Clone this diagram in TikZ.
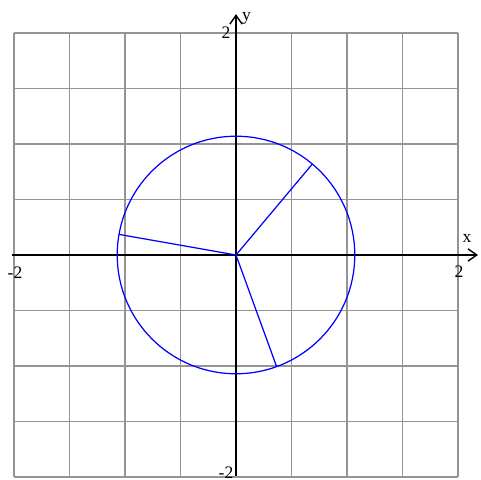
\documentclass[tikz,border=0pt]{standalone}
\usepackage{fontspec}
\setmainfont{Liberation Serif}
\usetikzlibrary{arrows.meta}
\begin{document}
\begin{tikzpicture}[x=2.22cm,y=2.22cm,
  gridline/.style={draw=black!42,line width=0.8pt},
  axisline/.style={draw=black,line width=0.8pt,-{Straight Barb[length=5pt,width=7pt]}},
  curve/.style={draw=blue,line width=0.7pt},
  lbl/.style={font=\fontsize{10}{12}\selectfont,inner sep=0pt}]
\useasboundingbox (-2.1261,-2.0270) rectangle (2.2072,2.2973);
\draw[gridline] (-2,-2) grid[step=0.5] (2,2);
\coordinate (O) at (0,0);
\coordinate (xs) at (-2.02,0);
\coordinate (xe) at (2.18,0);
\coordinate (ys) at (0,-1.99);
\coordinate (ye) at (0,2.17);
\draw[axisline] (xs) -- (xe);
\draw[axisline] (ys) -- (ye);
\draw[curve] (O) circle[radius=1.07];
\coordinate (P1) at (50:1.07);
\coordinate (P2) at (170:1.07);
\coordinate (P3) at (290:1.07);
\draw[curve] (O) -- (P1);
\draw[curve] (O) -- (P2);
\draw[curve] (O) -- (P3);
\node[lbl] (lx) at (2.081,0.153) {x};
\node[lbl] (ly) at (0.095,2.135) {y};
\node[lbl] (x2) at (2.009,-0.153) {2};
\node[lbl] (xm2) at (-1.991,-0.16) {-2};
\node[lbl] (y2) at (-0.09,2.0) {2};
\node[lbl] (ym2) at (-0.09,-1.964) {-2};
\end{tikzpicture}
\end{document}
